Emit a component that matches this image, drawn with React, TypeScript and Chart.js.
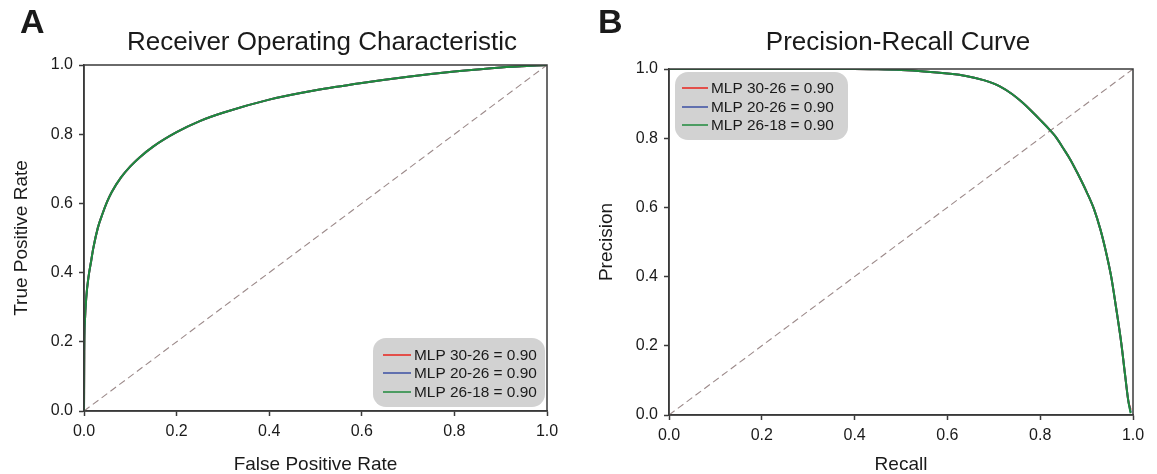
import React, { useEffect, useRef } from "react";
import { Chart, registerables } from "chart.js";

Chart.register(...registerables);

// ---------------- data ----------------
const tickValues = [0, 0.2, 0.4, 0.6, 0.8, 1.0];
const modelLabels = ["MLP 30-26 = 0.90", "MLP 20-26 = 0.90", "MLP 26-18 = 0.90"];
const modelColors = ["#e8231c", "#3b4fa3", "#1f8a3c"];

// ROC curve (false positive rate vs true positive rate)
const rocFpr = [0, 0.0005, 0.002, 0.005, 0.01, 0.015, 0.02, 0.03, 0.04, 0.05, 0.06, 0.08, 0.1, 0.12, 0.15, 0.2, 0.25, 0.3, 0.4, 0.5, 0.6, 0.7, 0.8, 0.9, 1.0];
const rocTpr3026 = [0, 0.17, 0.26, 0.33, 0.39, 0.43, 0.47, 0.53, 0.57, 0.605, 0.633, 0.675, 0.707, 0.733, 0.765, 0.806, 0.838, 0.862, 0.9, 0.927, 0.948, 0.966, 0.981, 0.993, 1.0];
const rocTpr2026 = [0, 0.17, 0.26, 0.33, 0.39, 0.43, 0.47, 0.53, 0.57, 0.605, 0.633, 0.675, 0.707, 0.733, 0.765, 0.806, 0.838, 0.862, 0.9, 0.927, 0.948, 0.966, 0.981, 0.993, 1.0];
const rocTpr2618 = [0, 0.17, 0.26, 0.33, 0.39, 0.43, 0.47, 0.53, 0.57, 0.605, 0.633, 0.675, 0.707, 0.733, 0.765, 0.806, 0.838, 0.862, 0.9, 0.927, 0.948, 0.966, 0.981, 0.993, 1.0];

// Precision-recall curve
const prRecall = [0, 0.1, 0.2, 0.3, 0.4, 0.45, 0.5, 0.55, 0.6, 0.64, 0.68, 0.713, 0.74, 0.76, 0.78, 0.8, 0.82, 0.834, 0.85, 0.865, 0.88, 0.9, 0.916, 0.93, 0.942, 0.953, 0.963, 0.975, 0.983, 0.99, 0.995];
const prPrecision3026 = [1, 1, 1, 1, 1, 0.999, 0.997, 0.993, 0.987, 0.98, 0.967, 0.95, 0.927, 0.905, 0.88, 0.853, 0.825, 0.803, 0.77, 0.738, 0.7, 0.645, 0.595, 0.535, 0.47, 0.4, 0.315, 0.205, 0.115, 0.04, 0.015];
const prPrecision2026 = [1, 1, 1, 1, 1, 0.999, 0.997, 0.993, 0.987, 0.98, 0.967, 0.95, 0.927, 0.905, 0.88, 0.853, 0.825, 0.803, 0.77, 0.738, 0.7, 0.645, 0.595, 0.535, 0.47, 0.4, 0.315, 0.205, 0.115, 0.04, 0.008];
const prPrecision2618 = [1, 1, 1, 1, 1, 0.999, 0.997, 0.993, 0.987, 0.98, 0.967, 0.95, 0.927, 0.905, 0.88, 0.853, 0.825, 0.803, 0.77, 0.738, 0.7, 0.645, 0.595, 0.535, 0.47, 0.4, 0.315, 0.205, 0.115, 0.04, 0.005];

const diagonal = [0, 1];

// ---------------- styling ----------------
const FONT = "'Liberation Sans', Arial, Helvetica, sans-serif";
const TEXT = "#1a1a1a";
const AXIS = "#3a3a3a";

type LegendSpec = { x: number; y: number; w: number; h: number; rows: number[]; lineX0: number; lineX1: number; textX: number };
type Deco = { letter: string; title: string; titleX: number; titleY: number; legend: LegendSpec };

const decoPlugin = {
  id: "panelDeco",
  afterDatasetsDraw(chart: any, _args: any, opts: Deco) {
    const ctx = chart.ctx as CanvasRenderingContext2D;
    const a = chart.chartArea;
    ctx.save();
    // frame
    ctx.strokeStyle = AXIS;
    ctx.lineWidth = 1.5;
    ctx.strokeRect(a.left, a.top, a.right - a.left, a.bottom - a.top);
    // legend
    const L = opts.legend;
    ctx.fillStyle = "#d2d2d2";
    ctx.beginPath();
    (ctx as any).roundRect(L.x, L.y, L.w, L.h, 13);
    ctx.fill();
    ctx.font = `15.4px ${FONT}`;
    ctx.textBaseline = "middle";
    ctx.textAlign = "left";
    modelLabels.forEach((lab, i) => {
      ctx.strokeStyle = modelColors[i];
      ctx.lineWidth = 1.5;
      ctx.beginPath();
      ctx.moveTo(L.lineX0, L.rows[i]);
      ctx.lineTo(L.lineX1, L.rows[i]);
      ctx.stroke();
      ctx.fillStyle = TEXT;
      ctx.fillText(lab, L.textX, L.rows[i] + 1);
    });
    // title and panel letter
    ctx.fillStyle = TEXT;
    ctx.textBaseline = "alphabetic";
    ctx.textAlign = "center";
    ctx.font = `26px ${FONT}`;
    ctx.fillText(opts.title, opts.titleX, opts.titleY);
    ctx.textAlign = "left";
    ctx.font = `bold 34px ${FONT}`;
    ctx.fillText(opts.letter, 20, 33);
    ctx.restore();
  },
};

function axis(titleText: string, isX: boolean, size: number, titlePad: number) {
  return {
    type: "linear",
    min: 0,
    max: 1,
    afterBuildTicks: (s: any) => {
      s.ticks = tickValues.map((v) => ({ value: v }));
    },
    ticks: {
      callback: (v: any) => Number(v).toFixed(1),
      font: { family: FONT, size: 16 },
      color: TEXT,
      padding: 6,
      maxRotation: 0,
      autoSkip: false,
    },
    grid: {
      display: true,
      drawOnChartArea: false,
      drawTicks: true,
      tickLength: 5,
      tickColor: AXIS,
      tickWidth: 1.5,
    },
    border: { display: true, color: AXIS, width: 1.5 },
    title: {
      display: true,
      text: titleText,
      font: { family: FONT, size: 19 },
      color: TEXT,
      padding: isX ? { top: 0, bottom: titlePad } : { top: titlePad, bottom: 0 },
    },
    afterFit: (s: any) => {
      if (isX) s.height = size;
      else s.width = size;
    },
  };
}

function buildDatasets(xs: number[], ys: number[][]) {
  const models = ys.map((arr, i) => ({
    label: modelLabels[i],
    data: xs.map((x, j) => ({ x, y: arr[j] })),
    borderColor: modelColors[i],
    borderWidth: 2,
    pointRadius: 0,
    fill: false,
    cubicInterpolationMode: "monotone",
    order: 2 - i,
  }));
  return [
    ...models,
    {
      label: "diag",
      data: diagonal.map((v) => ({ x: v, y: v })),
      borderColor: "#9c8a8a",
      borderWidth: 1.1,
      borderDash: [7, 4],
      pointRadius: 0,
      fill: false,
      order: 5,
    },
  ];
}

type PanelProps = {
  left: number;
  width: number;
  pad: { top: number; right: number };
  yWidth: number;
  xHeight: number;
  xTitle: string;
  yTitle: string;
  yTitlePad: number;
  xTitlePad: number;
  xs: number[];
  ys: number[][];
  deco: Deco;
};

function Panel(p: PanelProps) {
  const ref = useRef<HTMLCanvasElement | null>(null);
  useEffect(() => {
    if (!ref.current) return;
    const chart = new Chart(ref.current, {
      type: "line",
      data: { datasets: buildDatasets(p.xs, p.ys) as any },
      options: {
        animation: false,
        responsive: false,
        maintainAspectRatio: false,
        devicePixelRatio: 1,
        layout: { padding: { top: p.pad.top, right: p.pad.right, left: 0, bottom: 0 } },
        plugins: {
          legend: { display: false },
          tooltip: { enabled: false },
          title: { display: false },
          panelDeco: p.deco,
        } as any,
        scales: {
          x: axis(p.xTitle, true, p.xHeight, p.xTitlePad) as any,
          y: axis(p.yTitle, false, p.yWidth, p.yTitlePad) as any,
        },
      },
      plugins: [decoPlugin as any],
    });
    return () => chart.destroy();
  }, []);
  return (
    <canvas
      ref={ref}
      width={p.width}
      height={474}
      style={{ position: "absolute", left: p.left, top: 0, width: p.width, height: 474 }}
    />
  );
}

export default function App() {
  return (
    <div style={{ position: "fixed", left: 0, top: 0, width: 1157, height: 474, background: "#fff", overflow: "hidden" }}>
      <Panel
        left={0}
        width={578}
        pad={{ top: 65, right: 31 }}
        yWidth={84}
        xHeight={63}
        xTitle="False Positive Rate"
        yTitle="True Positive Rate"
        yTitlePad={10}
        xTitlePad={-2}
        xs={rocFpr}
        ys={[rocTpr3026, rocTpr2026, rocTpr2618]}
        deco={{
          letter: "A",
          title: "Receiver Operating Characteristic",
          titleX: 322,
          titleY: 50,
          legend: { x: 373, y: 338, w: 172, h: 69, rows: [355, 373, 392], lineX0: 383, lineX1: 411, textX: 414 },
        }}
      />
      <Panel
        left={578}
        width={579}
        pad={{ top: 69, right: 24 }}
        yWidth={91}
        xHeight={59}
        xTitle="Recall"
        yTitle="Precision"
        yTitlePad={17}
        xTitlePad={-2}
        xs={prRecall}
        ys={[prPrecision3026, prPrecision2026, prPrecision2618]}
        deco={{
          letter: "B",
          title: "Precision-Recall Curve",
          titleX: 320,
          titleY: 50,
          legend: { x: 97, y: 72, w: 173, h: 68, rows: [88, 107, 125], lineX0: 104, lineX1: 130, textX: 133 },
        }}
      />
    </div>
  );
}
